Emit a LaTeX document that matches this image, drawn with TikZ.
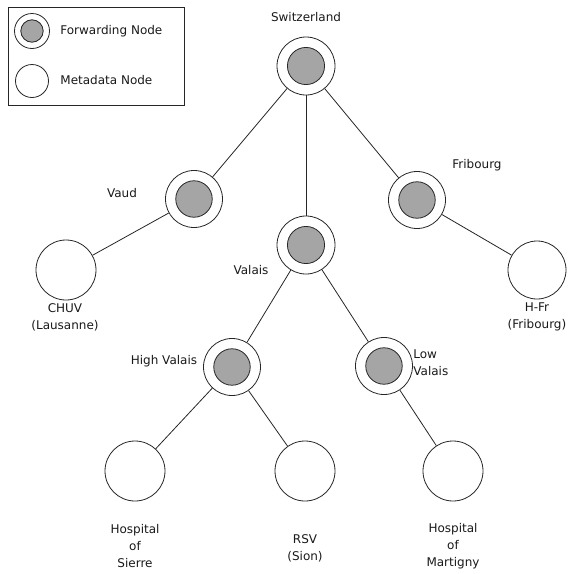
\documentclass[tikz,border=0pt]{standalone}
\usepackage{fontspec}
\setmainfont{DejaVu Sans}
\begin{document}
\begin{tikzpicture}[x=1pt,y=-1pt,
  every path/.style={line width=0.8pt},
  edge/.style={draw=black!85},
  fwd/.style={circle,draw=black!85,inner sep=0pt,minimum size=#1,
    path picture={\filldraw[fill=fwdgray,draw=black!85,line width=0.8pt]
      (path picture bounding box.center) circle (0.64*#1/2);}},
  fwd/.default=58pt,
  meta/.style={circle,draw=black!85,fill=white,inner sep=0pt,minimum size=#1},
  meta/.default=60pt,
  lbl/.style={inner sep=0pt,font=\fontsize{12}{17}\selectfont,align=center,text=black!90},
]
\definecolor{fwdgray}{RGB}{165,165,165}
\useasboundingbox (0,0) rectangle (569,574);

% legend
\draw[black!85] (8,7) rectangle (184,105);
\node[fwd=35pt] (legfwd) at (32,31) {};
\node[meta=33pt] (legmeta) at (32,81) {};
\node[lbl,anchor=west] (legfwdtxt) at (60,31) {Forwarding Node};
\node[lbl,anchor=west] (legmetatxt) at (60,80) {Metadata Node};

% forwarding nodes
\node[fwd] (sw) at (306,66) {};
\node[fwd=57pt] (vd) at (194,199) {};
\node[fwd] (vs) at (306,245) {};
\node[fwd=57pt] (fr) at (417,200) {};
\node[fwd=57pt] (hv) at (232,367) {};
\node[fwd=57pt] (lv) at (384,366) {};

% metadata nodes
\node[meta] (chuv) at (66,270) {};
\node[meta=58pt] (hfr) at (537,270) {};
\node[meta] (sierre) at (135,471) {};
\node[meta] (rsv) at (305,471) {};
\node[meta] (martigny) at (453,471) {};

% connectors
\draw[edge] (sw) -- (vd);
\draw[edge] (sw) -- (vs);
\draw[edge] (sw) -- (fr);
\draw[edge] (vd) -- (chuv);
\draw[edge] (fr) -- (hfr);
\draw[edge] (vs) -- (hv);
\draw[edge] (vs) -- (lv);
\draw[edge] (hv) -- (sierre);
\draw[edge] (hv) -- (rsv);
\draw[edge] (lv) -- (martigny);

% labels
\node[lbl] (swlbl) at (306,17) {Switzerland};
\node[lbl] (vdlbl) at (122,193) {Vaud};
\node[lbl] (vslbl) at (251,270) {Valais};
\node[lbl] (frlbl) at (477,165) {Fribourg};
\node[lbl] (chuvlbl) at (65,317) {CHUV\\(Lausanne)};
\node[lbl] (hfrlbl) at (537,317) {H-Fr\\(Fribourg)};
\node[lbl] (hvlbl) at (164,361) {High Valais};
\node[lbl,anchor=west,align=left] (lvlbl) at (413,363) {Low\\Valais};
\node[lbl] (sierrelbl) at (135,546) {Hospital\\of\\Sierre};
\node[lbl] (rsvlbl) at (305,548) {RSV\\(Sion)};
\node[lbl] (martignylbl) at (453,546) {Hospital\\of\\Martigny};
\end{tikzpicture}
\end{document}
